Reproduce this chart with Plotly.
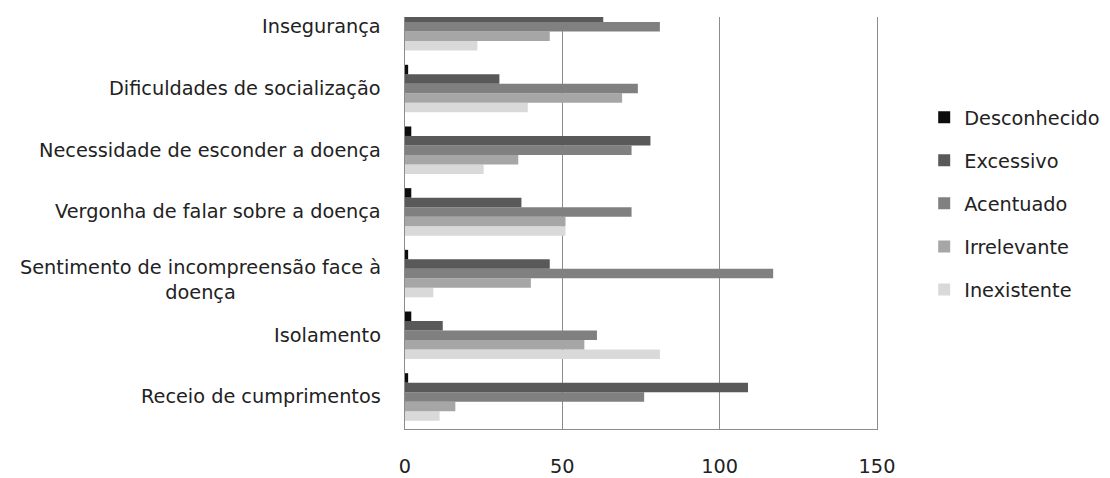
import plotly.graph_objects as go

categories = [
    "Receio de cumprimentos",
    "Isolamento",
    "Sentimento de incompreensão face à<br>doença",
    "Vergonha de falar sobre a doença",
    "Necessidade de esconder a doença",
    "Dificuldades de socialização",
    "Insegurança",
]
desconhecido = [1, 2, 1, 2, 2, 1, 1]
excessivo = [109, 12, 46, 37, 78, 30, 63]
acentuado = [76, 61, 117, 72, 72, 74, 81]
irrelevante = [16, 57, 40, 51, 36, 69, 46]
inexistente = [11, 81, 9, 51, 25, 39, 23]

series = [
    ("Inexistente", inexistente, "#d9d9d9", 5),
    ("Irrelevante", irrelevante, "#a6a6a6", 4),
    ("Acentuado", acentuado, "#808080", 3),
    ("Excessivo", excessivo, "#595959", 2),
    ("Desconhecido", desconhecido, "#0d0d0d", 1),
]
x_ticks = [0, 50, 100, 150]

FONT = "DejaVu Sans"
FS = 19.3
TXT = "#222222"
fig = go.Figure()
for name, vals, color, rank in series:
    fig.add_trace(go.Bar(
        y=categories, x=vals, name=name, orientation="h",
        marker=dict(color=color, line=dict(width=0)),
        legendgroup=name, legendrank=rank,
    ))

for cat in categories:
    fig.add_annotation(
        x=0, xref="paper", y=cat, yref="y",
        text=cat, showarrow=False, xanchor="right", yanchor="middle",
        align="center", xshift=-22, yshift=-6 if "<br>" in cat else 0,
        font=dict(family=FONT, size=FS, color=TXT),
    )

fig.update_layout(
    width=1102, height=470,
    margin=dict(l=397, r=233, t=9, b=49, autoexpand=False),
    paper_bgcolor="white", plot_bgcolor="white",
    barmode="group", bargap=0.23, bargroupgap=0,
    font=dict(family=FONT, size=FS, color=TXT),
    showlegend=True,
    legend=dict(
        x=1.10, xanchor="left", y=0.547, yanchor="middle",
        traceorder="grouped", tracegroupgap=15,
        font=dict(family=FONT, size=FS, color=TXT),
        bgcolor="rgba(0,0,0,0)",
    ),
    xaxis=dict(
        range=[0, 150], tickvals=x_ticks, ticktext=[str(v) for v in x_ticks],
        showgrid=True, gridcolor="#8c8c8c", gridwidth=1.3,
        showline=True, linecolor="#8c8c8c", linewidth=1.3,
        ticks="", ticklabelstandoff=20, zeroline=False, automargin=False,
        tickfont=dict(family=FONT, size=FS, color=TXT),
    ),
    yaxis=dict(
        type="category", range=[-0.52, 6.16], automargin=False,
        showticklabels=False, showgrid=False,
        showline=True, linecolor="#8c8c8c", linewidth=1.3, mirror=True,
        ticks="",
    ),
)

fig.write_html("out.html")
